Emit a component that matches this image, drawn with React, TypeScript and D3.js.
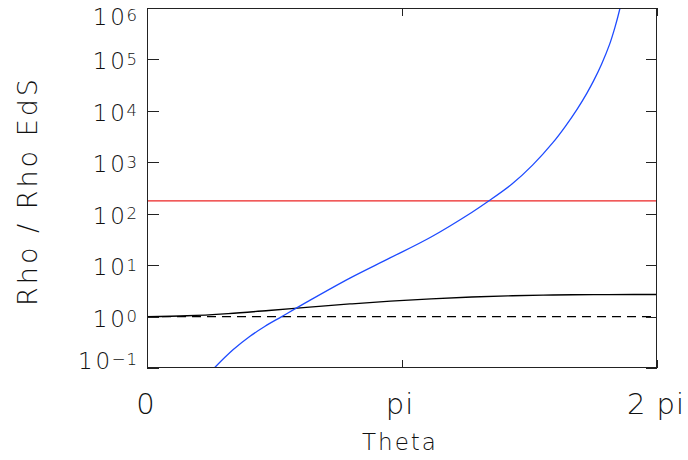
import React from "react";
import * as d3 from "d3";

const blackTheta = [0, 0.5, 1, 1.5, 2, 2.5, 3, 3.5, 4, 4.5, 5, 5.5, 6, 6.283];
const blackValue = [1.0, 1.037, 1.145, 1.313, 1.525, 1.76, 1.998, 2.217, 2.401, 2.539, 2.628, 2.672, 2.686, 2.686];

const blueTheta = [0.7, 0.829, 1.063, 1.269, 1.45, 1.66, 2.0, 2.5, 3.0, 3.5, 4.0, 4.205, 4.5, 4.75, 5.0, 5.15, 5.3, 5.42, 5.5, 5.6, 5.7, 5.765, 5.828, 5.9];
const blueValue = [0.0603, 0.1, 0.228, 0.414, 0.641, 1.0, 2.042, 5.598, 13.96, 35.32, 105.9, 174.6, 381, 879, 2404, 4887, 10814, 22182, 37844, 80910, 198600, 419800, 1000000, 3200000];

const redLevel = 177.7;
const unitLevel = 1;

const yTickExps = [-1, 0, 1, 2, 3, 4, 5, 6];
const xTickValues = [0, Math.PI, 2 * Math.PI];
const xTickLabels = ["0", "pi", "2 pi"];

const W = 688, H = 460;
const L = 147, R = 657, T = 8, B = 368;

const FONT = "'DejaVu Sans', sans-serif";
const TXT = "#111";

export default function App() {
  const x = d3.scaleLinear().domain([0, 2 * Math.PI]).range([L, R]);
  const y = d3.scaleLog().domain([0.1, 1e6]).range([B, T]);
  const line = d3
    .line<[number, number]>()
    .x((d) => x(d[0]))
    .y((d) => y(d[1]))
    .curve(d3.curveCatmullRom.alpha(0.5));
  const blackPath = line(blackTheta.map((t, i) => [t, blackValue[i]]) as [number, number][]);
  const bluePath = line(blueTheta.map((t, i) => [t, blueValue[i]]) as [number, number][]);
  const minus = (n: number) => (n < 0 ? "\u2212" + Math.abs(n) : String(n));
  const xLabelShift = [-1, -2, -1];

  return (
    <svg
      width={W}
      height={H}
      style={{ position: "absolute", left: 0, top: 0, background: "#fff" }}
    >
      <defs>
        <clipPath id="plotclip">
          <rect x={L} y={T} width={R - L} height={B - T} />
        </clipPath>
      </defs>
      <g clipPath="url(#plotclip)" fill="none">
        <line
          x1={L}
          x2={R}
          y1={y(unitLevel)}
          y2={y(unitLevel)}
          stroke="#000"
          strokeWidth={1.2}
          strokeDasharray="9,6"
        />
        <line x1={L} x2={R} y1={y(redLevel)} y2={y(redLevel)} stroke="rgb(235,35,35)" strokeWidth={1.3} />
        <path d={blackPath || ""} stroke="#000" strokeWidth={1.3} />
        <path d={bluePath || ""} stroke="rgb(30,75,255)" strokeWidth={1.3} />
      </g>
      {/* frame */}
      <rect x={L + 0.5} y={T + 0.5} width={R - L - 1} height={B - T - 1} fill="none" stroke="#222" strokeWidth={1} />
      {/* y ticks */}
      {yTickExps.map((e) => {
        const yy = Math.round(y(Math.pow(10, e))) + 0.5;
        return (
          <g key={"yt" + e} stroke="#222" strokeWidth={1}>
            <line x1={L} x2={L + 12} y1={yy} y2={yy} />
            <line x1={R - 11} x2={R} y1={yy} y2={yy} />
          </g>
        );
      })}
      {/* x ticks */}
      {xTickValues.map((v, i) => {
        const xx = Math.round(x(v)) + 0.5;
        return (
          <g key={"xt" + i} stroke="#222" strokeWidth={1}>
            <line x1={xx} x2={xx} y1={B} y2={B - 8} />
            <line x1={xx} x2={xx} y1={T} y2={T + 8} />
          </g>
        );
      })}
      {/* y tick labels */}
      {yTickExps.map((e) => {
        const c = Math.min(Math.max(y(Math.pow(10, e)), 15), 359);
        return (
          <text
            key={"yl" + e}
            x={138}
            y={c + 10}
            textAnchor="end"
            fontFamily={FONT}
            fontWeight={200}
            fontSize={23}
            letterSpacing={3}
            fill={TXT}
          >
            10
            <tspan dx={-1.5} dy={-4.5} fontSize={16.5} letterSpacing={1}>
              {minus(e)}
            </tspan>
          </text>
        );
      })}
      {/* x tick labels */}
      {xTickValues.map((v, i) => (
        <text
          key={"xl" + i}
          x={x(v) + xLabelShift[i]}
          y={414}
          textAnchor="middle"
          fontFamily={FONT}
          fontWeight={200}
          fontSize={29}
          letterSpacing={1}
          fill={TXT}
        >
          {xTickLabels[i]}
        </text>
      ))}
      <text
        x={400}
        y={450}
        textAnchor="middle"
        fontFamily={FONT}
        fontWeight={200}
        fontSize={23}
        letterSpacing={2}
        fill={TXT}
      >
        Theta
      </text>
      <text
        transform={`translate(37,191) rotate(-90)`}
        textAnchor="middle"
        fontFamily={FONT}
        fontWeight={200}
        fontSize={27}
        letterSpacing={3}
        fill={TXT}
      >
        Rho / Rho EdS
      </text>
    </svg>
  );
}
